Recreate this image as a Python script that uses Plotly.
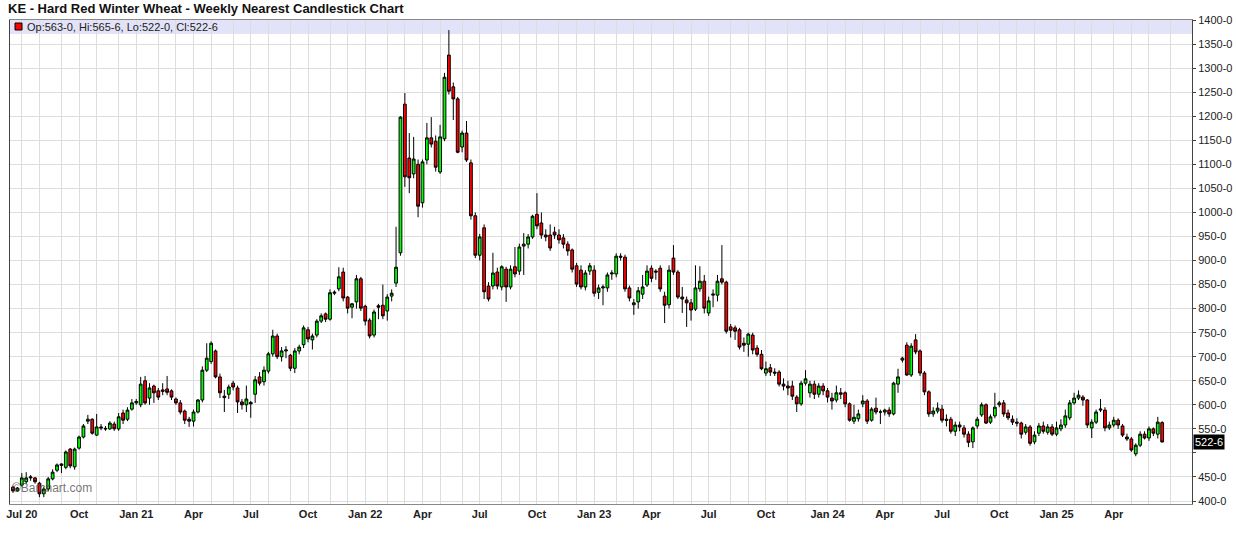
import pandas as pd
import plotly.graph_objects as go

# ---------------- data (weekly OHLC) ----------------
start_date = "2020-06-15"

opens = [429,421,433,440,448,448,437,415,425,446,464,474,470,508,471,510,533,566,570,537,
         554,551,550,560,550,583,570,591,604,600,650,614,639,629,631,633,629,612,604,587,
         570,566,585,610,672,690,712,658,618,622,645,635,606,600,605,622,658,648,670,706,
         743,700,712,703,676,712,725,756,735,745,774,789,778,832,841,876,824,803,814,862,
         805,776,745,806,807,795,826,853,916,1225,1113,1080,1100,1020,1109,1155,1148,1084,1153,1327,
         1261,1236,1136,1165,1103,993,911,968,847,847,876,845,882,845,887,878,930,934,949,996,
         978,953,953,959,953,947,934,922,889,880,845,878,880,834,843,843,872,872,909,907,
         843,808,814,830,849,884,878,884,826,808,905,876,824,818,812,799,841,857,791,828,
         828,862,855,762,760,756,728,726,745,718,705,666,677,668,668,643,639,639,616,602,
         645,625,643,622,639,629,614,610,625,625,602,566,571,602,608,568,593,585,585,589,
         581,643,693,724,662,735,712,666,627,581,587,591,570,570,545,558,552,539,523,556,
         579,600,564,577,600,604,583,570,564,562,543,554,523,541,556,543,554,539,550,558,
         573,604,614,616,610,552,564,589,589,552,558,568,556,533,529,498,516,539,531,550,
         539,563]
highs = [432,429,458,460,454,450,440,430,450,466,478,478,505,510,511,536,560,579,572,581,
         560,556,566,565,583,590,595,612,612,658,660,645,642,635,645,660,632,615,610,590,
         575,590,612,680,728,732,715,665,631,642,650,640,612,640,608,660,668,680,710,756,
         748,720,722,706,718,725,765,762,748,778,790,792,840,838,886,885,826,812,870,866,
         808,780,798,810,850,830,840,970,1200,1248,1165,1157,1110,1110,1186,1198,1160,1182,1290,1379,
         1270,1240,1170,1190,1110,1000,955,975,855,916,885,890,887,890,928,935,957,955,995,1040,
         1000,965,975,970,965,955,940,925,895,890,880,895,890,850,850,875,880,915,915,912,
         848,820,845,870,890,890,882,890,835,890,932,880,845,825,820,890,888,870,825,840,
         870,932,858,768,765,760,740,750,750,724,714,690,685,676,672,655,650,650,620,650,
         672,650,650,645,645,635,625,640,635,628,605,600,590,620,612,595,615,590,592,595,
         648,675,700,730,728,747,715,670,630,595,605,600,580,575,565,565,558,545,555,575,
         605,603,580,625,608,610,590,578,572,565,560,558,545,562,565,560,560,565,570,590,
         610,625,630,620,612,570,590,612,595,565,575,572,560,540,533,520,545,545,555,553,
         575,565.75]
lows = [417,419,430,436,442,436,408,408,420,443,460,458,466,468,465,507,530,560,538,535,
        547,546,548,546,546,560,566,588,600,595,600,600,604,610,620,620,610,600,580,560,
        554,555,582,605,668,685,655,614,585,612,630,583,590,585,573,604,640,640,665,700,
        695,690,697,670,666,705,718,730,715,740,770,772,775,828,836,815,790,780,800,795,
        765,738,740,778,778,775,815,845,910,1053,1040,1071,990,1010,1100,1135,1085,1080,1148,1245,
        1192,1123,1125,1105,985,905,900,820,815,840,840,838,814,840,865,870,870,925,945,965,
        945,940,920,945,935,925,910,875,845,840,838,870,825,820,807,835,860,865,900,835,
        815,787,800,820,845,855,860,835,770,800,870,820,791,762,775,795,835,790,785,803,
        815,850,748,740,735,715,710,700,705,700,672,660,660,660,638,630,620,610,585,598,
        640,615,612,615,620,605,590,605,612,595,565,560,565,595,560,565,580,560,578,575,
        578,625,688,660,658,705,660,620,575,575,582,563,555,540,535,545,532,512,510,550,
        575,560,560,572,595,575,568,558,555,530,538,515,518,535,540,538,535,535,545,552,
        568,600,610,598,552,531,560,585,545,548,553,550,533,525,502,493,512,528,525,535,
        530,522]
closes = [421,427,448,448,450,440,415,425,446,460,475,477,502,473,508,533,556,570,541,554,
          552,550,562,550,575,568,589,604,607,643,604,635,625,616,628,626,616,604,585,568,
          566,585,610,672,697,728,658,625,615,637,637,606,600,612,602,652,645,672,706,743,
          700,712,714,676,712,720,760,737,743,774,785,778,833,834,866,822,801,810,862,801,
          774,743,793,803,785,824,832,886,1198,1074,1072,1111,1013,1105,1155,1142,1094,1157,1281,1252,
          1236,1125,1165,1109,993,911,949,835,820,874,847,887,845,882,872,928,934,949,992,972,
          953,949,926,953,943,934,920,882,851,845,874,889,832,843,845,870,874,909,907,841,
          822,812,837,845,878,863,876,841,807,880,876,824,820,812,797,843,857,801,816,830,
          857,855,753,755,753,720,724,747,714,705,675,675,668,666,643,639,635,618,602,645,
          654,643,622,639,629,616,608,625,622,602,568,574,581,608,566,591,585,585,589,581,
          645,658,697,662,722,710,666,627,581,587,593,568,568,545,558,554,539,522,552,570,
          600,562,575,595,604,581,573,564,562,539,554,520,537,556,545,554,539,552,558,577,
          604,614,620,610,558,564,585,591,552,558,568,558,537,529,506,516,539,531,550,541,
          564,522.75]

y_tick_values = [400,450,500,550,600,650,700,750,800,850,900,950,1000,1050,1100,1150,1200,1250,1300,1350,1400]
y_tick_labels = ["400-0","450-0","","550-0","600-0","650-0","700-0","750-0","800-0","850-0","900-0",
                 "950-0","1000-0","1050-0","1100-0","1150-0","1200-0","1250-0","1300-0","1350-0","1400-0"]
x_tick_months = ["2020-07-01","2020-10-01","2021-01-01","2021-04-01","2021-07-01","2021-10-01",
                 "2022-01-01","2022-04-01","2022-07-01","2022-10-01","2023-01-01","2023-04-01",
                 "2023-07-01","2023-10-01","2024-01-01","2024-04-01","2024-07-01","2024-10-01",
                 "2025-01-01","2025-04-01"]
x_tick_labels = ["Jul 20","Oct","Jan 21","Apr","Jul","Oct","Jan 22","Apr","Jul","Oct","Jan 23","Apr",
                 "Jul","Oct","Jan 24","Apr","Jul","Oct","Jan 25","Apr"]

title_text = "KE - Hard Red Winter Wheat - Weekly Nearest Candlestick Chart"
legend_text = "Op:563-0, Hi:565-6, Lo:522-0, Cl:522-6"
last_label = "522-6"
last_price = closes[-1]

# ---------------- figure ----------------
dates = pd.date_range(start_date, periods=len(closes), freq="7D")


def week_of(d):
    d = pd.Timestamp(d)
    return d - pd.Timedelta(days=d.weekday())


major_ticks = [week_of(d) for d in x_tick_months]
month_starts = pd.date_range("2020-07-01", "2025-07-01", freq="MS")
minor_ticks = [week_of(d) for d in month_starts]

FONT = "Liberation Sans, Arial, Helvetica, sans-serif"
GRID = "#dddddd"

fig = go.Figure()
fig.add_trace(go.Candlestick(
    x=dates, open=opens, high=highs, low=lows, close=closes,
    increasing=dict(fillcolor="#00ff00", line=dict(color="#000000", width=1)),
    decreasing=dict(fillcolor="#ff0000", line=dict(color="#000000", width=1)),
    whiskerwidth=0, showlegend=False, hoverinfo="x+y",
))

fig.update_layout(
    width=1236, height=542,
    margin=dict(l=10, r=44, t=20, b=38, autoexpand=False),
    paper_bgcolor="white", plot_bgcolor="white",
    font=dict(family=FONT, size=11, color="#222222"),
    boxgap=0.1,
    showlegend=False,
    xaxis=dict(
        type="date", automargin=False,
        range=["2020-06-10 05:30", "2025-08-02 10:00"],
        rangeslider=dict(visible=False),
        tickmode="array", tickvals=major_ticks, ticktext=x_tick_labels,
        tickfont=dict(family=FONT, size=11, color="#222222", weight="bold"),
        showgrid=True, gridcolor=GRID, gridwidth=1,
        minor=dict(tickmode="array", tickvals=minor_ticks, showgrid=True, gridcolor=GRID, gridwidth=1),
        ticks="", showline=True, linecolor="#888888", linewidth=1, mirror=True,
        zeroline=False, fixedrange=True,
    ),
    yaxis=dict(
        side="right", automargin=False,
        range=[393.8, 1400],
        tickmode="array", tickvals=y_tick_values, ticktext=y_tick_labels,
        tickfont=dict(family=FONT, size=11, color="#222222"),
        showgrid=True, gridcolor=GRID, gridwidth=1,
        ticks="outside", ticklen=3, tickcolor="#444444",
        showline=True, linecolor="#444444", linewidth=1, mirror=True,
        zeroline=False, fixedrange=True,
    ),
)

PLOT_H = 542 - 20 - 38
PLOT_W = 1236 - 10 - 44

# legend band at the top of the plot area
fig.add_shape(type="rect", xref="paper", yref="paper", x0=0, x1=1,
              y0=1 - 14 / PLOT_H, y1=1, fillcolor="#e2e2f8", line=dict(width=0), layer="below")
fig.add_shape(type="rect", xref="paper", yref="paper",
              x0=5 / PLOT_W, x1=12 / PLOT_W, y0=1 - 10 / PLOT_H, y1=1 - 3 / PLOT_H,
              fillcolor="#ff0000", line=dict(color="#000000", width=1))
fig.add_annotation(text=legend_text, xref="paper", yref="paper", x=15 / PLOT_W, y=1 - 6.5 / PLOT_H,
                   xanchor="left", yanchor="middle", showarrow=False,
                   font=dict(family=FONT, size=11, color="#222222"))

# title
fig.add_annotation(text="<b>" + title_text + "</b>", xref="paper", yref="paper", x=-4 / PLOT_W, y=1,
                   xanchor="left", yanchor="middle", yshift=12, showarrow=False,
                   font=dict(family=FONT, size=13, color="#111111"))

# watermark
fig.add_annotation(text="©Barchart.com", xref="paper", yref="paper", x=0, y=16 / PLOT_H,
                   xanchor="left", yanchor="middle", showarrow=False,
                   font=dict(family=FONT, size=12, color="rgba(70,70,70,0.75)"))

# last price box on the axis
fig.add_annotation(text=last_label, xref="paper", yref="y", x=1, y=last_price,
                   xanchor="left", yanchor="middle", xshift=1, showarrow=False,
                   bgcolor="#000000", borderpad=1,
                   font=dict(family=FONT, size=11, color="#ffffff"))

fig.write_html("out.html", post_script="document.body.style.margin='0px';",
               config={"displayModeBar": False})
